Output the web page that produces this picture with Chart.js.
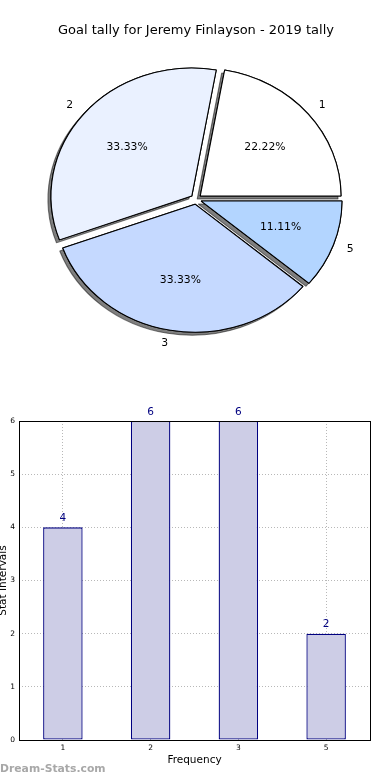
<!DOCTYPE html>
<html>
<head>
<meta charset="utf-8">
<script src="https://cdn.jsdelivr.net/npm/chart.js@4.4.1/dist/chart.umd.min.js"></script>
<style>
  html, body { margin: 0; padding: 0; background: #fff; }
  body { width: 390px; height: 780px; position: relative; overflow: hidden; }
  #pieChart { position: absolute; left: 0; top: 0; }
  #barChart { position: absolute; left: 0; top: 390px; }
  .watermark { position: absolute; left: 0; top: 762px; font: bold 10.8px "DejaVu Sans", sans-serif; color: #a8a8a8; }
</style>
</head>
<body>
<canvas id="pieChart" width="390" height="390"></canvas>
<canvas id="barChart" width="390" height="390"></canvas>
<div class="watermark">Dream-Stats.com</div>
<script>
const titleText = 'Goal tally for Jeremy Finlayson - 2019 tally';
const categories = ['1', '2', '3', '5'];
const tally = [4, 6, 6, 2];
const sliceColors = ['#ffffff', '#eaf1ff', '#c5d9ff', '#b3d5ff'];
const yTicks = [0, 1, 2, 3, 4, 5, 6];
const xTitle = 'Frequency';
const yTitle = 'Stat Intervals';

Chart.defaults.font.family = '"DejaVu Sans", sans-serif';
Chart.defaults.color = '#000';

// pie goes clockwise from 3 o'clock, so feed it backwards to get the
// counter-clockwise layout of the original
const pieLabels = categories.slice().reverse();
const pieValues = tally.slice().reverse();
const pieColors = sliceColors.slice().reverse();

const STRETCH_X = 1.1; // original pie is slightly wider than tall
const EXPLODE = 5;     // px each wedge is pushed out

// draws the wedges ourselves: stretched, exploded, shadows underneath
const wedgePlugin = {
  id: 'wedges',
  beforeDatasetsDraw(chart) {
    const ctx = chart.ctx;
    const arcs = chart.getDatasetMeta(0).data;
    const cx = arcs[0].x, cy = arcs[0].y;
    const pass = () => arcs.forEach(a => {
      const mid = (a.startAngle + a.endAngle) / 2;
      ctx.save();
      ctx.translate(Math.cos(mid) * EXPLODE, Math.sin(mid) * EXPLODE);
      a.draw(ctx);
      ctx.restore();
    });
    ctx.save();
    ctx.translate(cx, cy);
    ctx.scale(STRETCH_X, 1);
    ctx.translate(-cx, -cy);
    ctx.save();
    ctx.shadowColor = 'rgba(0,0,0,0.5)';
    ctx.shadowOffsetX = -3;
    ctx.shadowOffsetY = 3;
    pass();
    ctx.restore();
    pass();
    ctx.restore();
    return false;
  },
  afterDraw(chart) {
    const ctx = chart.ctx;
    const total = pieValues.reduce((a, b) => a + b, 0);
    ctx.save();
    ctx.font = '10.8px "DejaVu Sans"';
    ctx.fillStyle = '#000';
    ctx.textBaseline = 'middle';
    chart.getDatasetMeta(0).data.forEach((arc, i) => {
      const mid = (arc.startAngle + arc.endAngle) / 2;
      const r = arc.outerRadius;
      const at = k => ({
        x: arc.x + STRETCH_X * (EXPLODE + k * r) * Math.cos(mid),
        y: arc.y + (EXPLODE + k * r) * Math.sin(mid)
      });
      const p = at(0.6);
      ctx.textAlign = 'center';
      ctx.fillText((pieValues[i] / total * 100).toFixed(2) + '%', p.x, p.y);
      const l = at(1.1);
      ctx.textAlign = l.x >= arc.x ? 'left' : 'right';
      ctx.fillText(pieLabels[i], l.x, l.y);
    });
    ctx.restore();
  }
};

new Chart(document.getElementById('pieChart'), {
  type: 'pie',
  data: {
    labels: pieLabels,
    datasets: [{
      data: pieValues,
      backgroundColor: pieColors,
      borderColor: '#000',
      borderWidth: 1
    }]
  },
  options: {
    responsive: false,
    animation: false,
    events: [],
    rotation: 90,
    radius: 128,
    layout: { padding: { left: 2, right: 0, top: 0, bottom: 30 } },
    plugins: {
      legend: { display: false },
      tooltip: { enabled: false },
      title: {
        display: true,
        text: titleText,
        color: '#000',
        font: { size: 13, weight: 'normal' },
        padding: { top: 23, bottom: 0 }
      }
    }
  },
  plugins: [wedgePlugin]
});

const framePlugin = {
  id: 'frame',
  afterDatasetsDraw(chart) {
    const { ctx, chartArea: a } = chart;
    ctx.save();
    ctx.strokeStyle = '#000';
    ctx.lineWidth = 1;
    ctx.strokeRect(Math.round(a.left) + 0.5, Math.round(a.top) + 0.5,
      Math.round(a.right - a.left), Math.round(a.bottom - a.top));
    ctx.restore();
  }
};

const valueLabelPlugin = {
  id: 'valueLabels',
  afterDatasetsDraw(chart) {
    const ctx = chart.ctx;
    ctx.save();
    ctx.font = '10.5px "DejaVu Sans"';
    ctx.fillStyle = '#000080';
    ctx.textAlign = 'center';
    ctx.textBaseline = 'middle';
    chart.getDatasetMeta(0).data.forEach((bar, i) => {
      ctx.fillText(String(tally[i]), bar.x, bar.y - 9);
    });
    ctx.restore();
  }
};

const gridStyle = { color: '#b8b8b8', lineWidth: 1, drawTicks: false };

new Chart(document.getElementById('barChart'), {
  type: 'bar',
  data: {
    labels: categories,
    datasets: [{
      data: tally,
      backgroundColor: '#cdcde6',
      borderColor: '#000080',
      borderWidth: 1.3,
      borderSkipped: false,
      barPercentage: 0.45,
      categoryPercentage: 1
    }]
  },
  options: {
    responsive: false,
    animation: false,
    events: [],
    layout: { padding: { top: 31, right: 20, left: 0, bottom: 0 } },
    plugins: {
      legend: { display: false },
      tooltip: { enabled: false }
    },
    scales: {
      x: {
        grid: Object.assign({ offset: false }, gridStyle),
        border: { display: false, dash: [1, 2] },
        ticks: { padding: 4, color: '#000', font: { size: 7.5 } },
        title: { display: true, text: xTitle, color: '#000', font: { size: 10.5 }, padding: { top: 0, bottom: 13.7 } },
        afterFit(s) { s.height = 40; }
      },
      y: {
        min: 0,
        max: 6,
        grid: gridStyle,
        border: { display: false, dash: [1, 2] },
        ticks: { padding: 4, color: '#000', font: { size: 7.5 } },
        afterBuildTicks(s) { s.ticks = yTicks.map(v => ({ value: v })); },
        title: { display: true, text: yTitle, color: '#000', font: { size: 10.5 }, padding: { top: -3, bottom: 0 } },
        afterFit(s) { s.width = 19; }
      }
    }
  },
  plugins: [framePlugin, valueLabelPlugin]
});
</script>
</body>
</html>
